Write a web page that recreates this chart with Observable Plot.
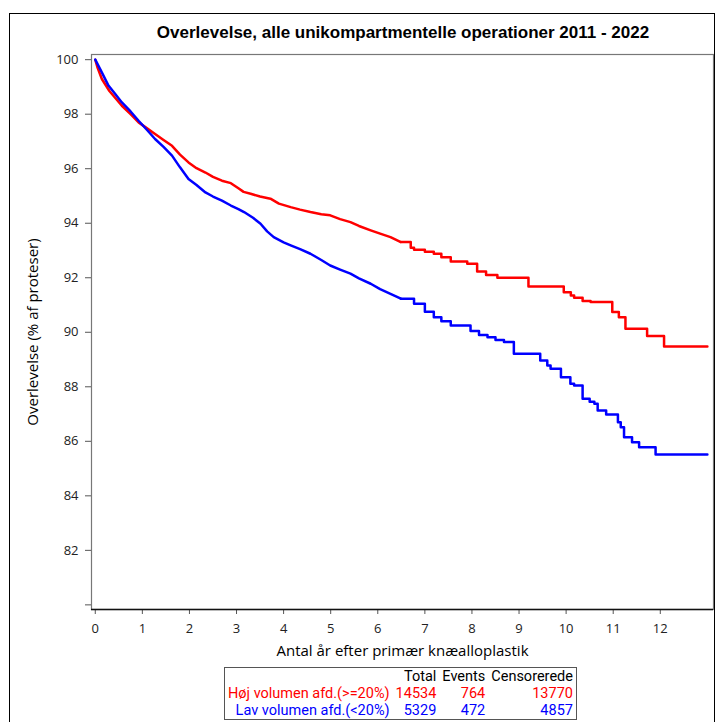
<!DOCTYPE html>
<html>
<head>
<meta charset="utf-8">
<script src="https://cdn.jsdelivr.net/npm/d3@7"></script>
<script src="https://cdn.jsdelivr.net/npm/@observablehq/plot@0.6"></script>
<style>
  html, body { margin: 0; padding: 0; background: #fff; }
  #wrap { position: relative; width: 717px; height: 722px; overflow: hidden; }
  #border { position: absolute; left: 9px; top: 13px; width: 706px; height: 720px; border: 1px solid #000; box-sizing: border-box; pointer-events: none; }
  #title { position: absolute; left: 0; width: 806px; top: 23px; text-align: center; font: bold 17px "Liberation Sans", Arial, sans-serif; color: #000; }
  #legend { position: absolute; left: 224px; top: 667px; border: 1px solid #555; border-collapse: collapse; font: 14.5px Roboto, sans-serif; }
  #legend td { padding: 0 3px; height: 17px; line-height: 17px; text-align: right; white-space: nowrap; }
  #plot { position: absolute; left: 0; top: 0; }
</style>
</head>
<body>
<div id="wrap">
  <div id="plot"></div>
  <div id="title"></div>
  <table id="legend"></table>
  <div id="border"></div>
</div>
<script>
const titleText = "Overlevelse, alle unikompartmentelle operationer 2011 - 2022";
const xTitle = "Antal år efter primær knæalloplastik";
const yTitle = "Overlevelse (% af proteser)";

const xTicks = [0,1,2,3,4,5,6,7,8,9,10,11,12];
const yTicks = [80,82,84,86,88,90,92,94,96,98,100];

const seriesNames = ["Høj volumen afd.(>=20%)", "Lav volumen afd.(<20%)"];
const seriesColors = ["#ff0000", "#0000ff"];
const tableHeader = ["", "Total", "Events", "Censorerede"];
const totals = [14534, 5329];
const events = [764, 472];
const censored = [13770, 4857];

const hojT = [0,0.05,0.14,0.3,0.565,0.75,0.92,1.1,1.27,1.45,1.63,1.8,1.98,2.15,2.34,2.5,2.69,2.88,3.04,3.15,3.3,3.5,3.72,3.9,4.15,4.35,4.57,4.8,4.99,5.2,5.42,5.6,5.85,6.05,6.27,6.49,6.7,6.77,7.0,7.19,7.35,7.55,7.9,8.11,8.3,8.54,9.2,9.95,10.1,10.17,10.35,10.52,10.98,11.12,11.26,11.72,12.08,13.0];
const hojV = [100,99.7,99.29,98.85,98.31,98.0,97.7,97.48,97.27,97.05,96.84,96.52,96.23,96.02,95.86,95.7,95.56,95.47,95.28,95.15,95.08,94.98,94.9,94.72,94.59,94.5,94.41,94.33,94.29,94.15,94.04,93.9,93.74,93.62,93.49,93.31,93.1,93.03,92.95,92.88,92.75,92.6,92.51,92.23,92.1,92.0,91.68,91.47,91.35,91.27,91.15,91.11,90.74,90.55,90.13,89.86,89.48,89.48];

const lavT = [0,0.03,0.15,0.28,0.42,0.565,0.75,0.92,1.1,1.27,1.45,1.63,1.8,1.98,2.15,2.34,2.5,2.69,2.88,3.04,3.16,3.35,3.51,3.65,3.79,4.0,4.15,4.35,4.57,4.8,4.99,5.2,5.42,5.6,5.85,6.05,6.27,6.49,6.77,7.0,7.19,7.35,7.55,7.97,8.15,8.33,8.5,8.68,8.89,9.45,9.6,9.67,9.89,10.09,10.17,10.35,10.5,10.6,10.67,10.85,11.1,11.16,11.23,11.4,11.55,11.9,13.0];
const lavV = [100,99.9,99.5,99.05,98.75,98.43,98.1,97.76,97.42,97.09,96.8,96.48,96.05,95.62,95.4,95.13,94.98,94.83,94.65,94.52,94.41,94.2,93.98,93.7,93.49,93.3,93.19,93.05,92.88,92.65,92.45,92.3,92.15,91.98,91.78,91.58,91.41,91.23,91.05,90.75,90.55,90.4,90.25,90.05,89.9,89.82,89.72,89.64,89.21,88.96,88.78,88.66,88.35,88.11,88.05,87.56,87.45,87.38,87.13,86.98,86.7,86.52,86.15,85.97,85.78,85.52,85.52];

// Early part of the Kaplan-Meier curves has many tiny steps: drawn smoothly; later part as steps.
const smoothUntil = 6.5;
const hoj = hojT.map((t, i) => ({t, v: hojV[i]}));
const lav = lavT.map((t, i) => ({t, v: lavV[i]}));
const early = arr => arr.filter(d => d.t <= smoothUntil);
const late = arr => {
  const before = arr.filter(d => d.t <= smoothUntil);
  const last = before[before.length - 1];
  return [last, ...arr.filter(d => d.t > smoothUntil)];
};

const chart = Plot.plot({
  width: 717,
  height: 722,
  marginLeft: 91,
  marginRight: 4,
  marginTop: 54,
  marginBottom: 113,
  style: {fontFamily: "'Open Sans', sans-serif", fontSize: "13px", color: "#222", background: "transparent"},
  x: {domain: [-0.08, 13.13]},
  y: {domain: [79.83, 100.19]},
  marks: [
    Plot.frame({stroke: "#777", strokeWidth: 1.2}),
    Plot.axisY({ticks: yTicks, tickSize: 6, tickPadding: 7, tickFormat: d => d === 80 ? "" : String(d), label: null, stroke: "#555", fontSize: 13}),
    Plot.axisX({ticks: xTicks, tickSize: 5, tickPadding: 9, tickFormat: d => String(d), label: null, stroke: "#555", fontSize: 13}),
    Plot.ruleY([79.83], {stroke: "#111", strokeWidth: 1.5}),
    Plot.line(early(hoj), {x: "t", y: "v", curve: "linear", stroke: seriesColors[0], strokeWidth: 2.5}),
    Plot.line(late(hoj), {x: "t", y: "v", curve: "step-after", stroke: seriesColors[0], strokeWidth: 2.5}),
    Plot.line(early(lav), {x: "t", y: "v", curve: "linear", stroke: seriesColors[1], strokeWidth: 2.5}),
    Plot.line(late(lav), {x: "t", y: "v", curve: "step-after", stroke: seriesColors[1], strokeWidth: 2.5}),
    Plot.text([xTitle], {frameAnchor: "bottom", dy: 46, fontSize: 15, fill: "#000"}),
    Plot.text([yTitle], {frameAnchor: "left", dx: -58, rotate: -90, textAnchor: "middle", fontSize: 15, fill: "#000"})
  ]
});
document.getElementById("plot").appendChild(chart);
document.getElementById("title").textContent = titleText;

const tbl = document.getElementById("legend");
const hdr = tbl.insertRow();
tableHeader.forEach(h => { const c = hdr.insertCell(); c.textContent = h; c.style.color = "#000"; });
seriesNames.forEach((n, i) => {
  const r = tbl.insertRow();
  [n, totals[i], events[i], censored[i]].forEach(v => {
    const c = r.insertCell(); c.textContent = v; c.style.color = seriesColors[i];
  });
});
</script>
</body>
</html>
